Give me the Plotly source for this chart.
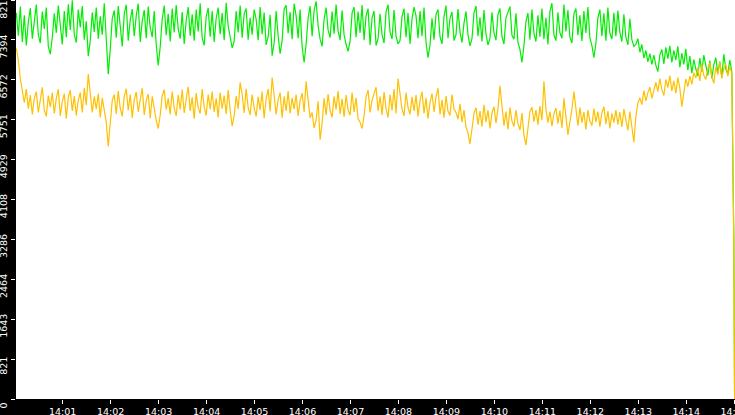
import numpy as np
import pandas as pd
import plotly.graph_objects as go

# samples every 2.5 s starting 14:00:02, last point closes the trace at 14:15
start = pd.Timestamp("2024-01-01 14:00:02")
n_regular = 360
times = list(start + pd.to_timedelta(np.arange(n_regular) * 2.5, unit="s"))
times.append(pd.Timestamp("2024-01-01 14:15:00.5"))

green = [
    7950, 7480, 8080, 7350, 7900, 7280, 7760, 8050, 7420, 7830, 8120, 7500, 7330, 7980, 7620, 8060, 7260, 7100, 7450, 7940,
    7540, 8100, 7680, 7300, 7990, 7450, 8130, 7600, 8210, 7500, 7340, 8020, 7650, 8090, 7400, 7780, 7060, 7380, 7960, 7560,
    8060, 7420, 7880, 7500, 8150, 7330, 6690, 7200, 7840, 8000, 7440, 8090, 7590, 7260, 7930, 8120, 7380, 7810, 8030, 7470,
    7890, 8140, 7350, 7780, 8010, 7430, 8080, 7640, 7450, 7990, 7300, 6870, 7250, 7820, 8100, 7490, 7930, 7360, 8040, 7550,
    8110, 7620, 7420, 7970, 7310, 7800, 8070, 7480, 7920, 7380, 8020, 7570, 8150, 7430, 7280, 7880, 8050, 7460, 7990, 7350,
    7840, 8060, 7510, 7950, 7390, 8160, 7680, 7420, 7230, 7370, 7990, 7550, 8100, 7440, 7930, 8040, 7400, 7850, 7500, 8020,
    7820, 7390, 8070, 7510, 7960, 7290, 7460, 7910, 7070, 7330, 7990, 7480, 7110, 7380, 8030, 8110, 7530, 7970, 7410, 8140,
    7890, 7430, 8020, 7260, 6930, 7300, 7850, 8090, 7470, 8000, 8190, 7690, 7410, 7260, 7820, 8060, 7600, 7440, 7980, 7520,
    8120, 7580, 7390, 8000, 7500, 7300, 7160, 7370, 7950, 8070, 7450, 7980, 7540, 8110, 7390, 7890, 8040, 7290, 7850, 7990,
    7280, 7420, 7930, 7500, 7330, 7970, 8120, 7560, 7410, 8010, 7470, 7310, 7380, 7880, 8040, 7450, 7950, 7310, 7830, 8070,
    7890, 7430, 7990, 7470, 8060, 7340, 7030, 7290, 7840, 7400, 7920, 8020, 7460, 7310, 7870, 8100, 7430, 7840, 7970, 7380,
    7500, 8030, 7560, 7340, 7740, 7980, 7500, 7270, 7420, 7950, 8090, 7470, 7860, 7360, 8010, 7510, 7290, 7430, 7960, 7540,
    7390, 7920, 8040, 7460, 7310, 7850, 7990, 8080, 7490, 7410, 7940, 7340, 7200, 6930, 7280, 7770, 7950, 7400, 8020, 7530,
    7360, 7900, 7460, 8040, 7410, 7850, 7300, 7980, 8150, 7500, 7380, 7960, 7540, 7430, 8120, 7570, 8010, 7450, 7330, 7930,
    8040, 7490, 7900, 7370, 7990, 7540, 8070, 7430, 7280, 7030, 7320, 7850, 8020, 7470, 7940, 7380, 8060, 7530, 7410, 7950,
    7470, 8000, 7550, 7360, 7920, 7450, 7290, 7830, 7400, 7260, 7300, 7420, 7140, 7300, 7020, 7180, 6940, 7110, 6890, 7080,
    6870, 6740, 7080, 7200, 6900, 7240, 7010, 7270, 6930, 7180, 6980, 7260, 6830, 7120, 6890, 7210, 6770, 7060, 6710, 6990,
    6800, 6650, 7020, 6740, 7080, 6830, 6660, 6970, 6600, 6880, 7030, 6710, 6950, 6620, 7100, 6800, 6690, 6980, 6750, 3280,
    0,
]

yellow = [
    7220, 6980, 6600, 6330, 6100, 6380, 5980, 6260, 5860, 6190, 6330, 5900, 6170, 6420, 5950, 5820, 6250, 6010, 6310, 5880,
    6190, 6380, 5830, 6120, 6290, 5770, 6210, 6360, 5930, 6240, 5840, 6150, 6310, 5900, 6410, 6050, 6690, 6300, 5900, 6230,
    5970, 6290, 5800, 6200, 5940, 5700, 5200, 5620, 6150, 6270, 5870, 6340, 5990, 5820, 6230, 6390, 5940, 6270, 5790, 6160,
    6320, 5910, 6200, 6400, 5850, 6150, 6280, 5780, 6230, 5970, 5740, 5570, 5850, 6240, 6370, 5960, 6190, 5860, 6330, 5990,
    5830, 6260, 5960, 6370, 5890, 6180, 6430, 5930, 6210, 5770, 6300, 6000, 5880, 6380, 6010, 5840, 6270, 5970, 6330, 5910,
    6190, 5800, 6310, 5980, 6250, 5870, 6360, 5940, 5620, 5830, 6240, 5970, 6520, 6270, 5890, 6390, 6000, 5850, 6270, 5990,
    5820, 6220, 5950, 6330, 5780, 6180, 6380, 5920, 6620, 6250, 5860, 6160, 6310, 5790, 6230, 5930, 6340, 5880, 6200, 5970,
    6270, 5830, 6150, 6300, 5910, 6540, 6180, 5790, 5900, 5580, 5740, 6130, 5340, 5680, 6190, 5850, 6280, 5940, 5800, 6230,
    5960, 6340, 5870, 6180, 5810, 6260, 5950, 5840, 6310, 5910, 6200, 5770, 5700, 5570, 5830, 6220, 6360, 5900, 6150, 6280,
    6420, 5930, 6230, 5850, 6320, 5980, 5800, 6270, 5940, 6380, 5880, 6600, 6250, 5970, 5830, 6310, 6000, 5860, 6220, 5930,
    6260, 5820, 6150, 6330, 5880, 6200, 5770, 6110, 6290, 5910, 6220, 6400, 5860, 6160, 5790, 6240, 5930, 5840, 6270, 5970,
    5900, 5760, 6080, 5700, 5950, 5600, 5480, 5250, 5560, 5880, 6000, 5650, 5930, 5610, 6060, 5700, 5950, 5570, 5890, 6020,
    5680, 5970, 6450, 6050, 5630, 5920, 5550, 6000, 5720, 5610, 5950, 5670, 5540, 5890, 5430, 5230, 5640, 5920, 6010, 5710,
    5950, 5650, 6030, 5740, 6540, 5970, 5690, 5920, 5620, 5870, 5990, 5670, 5940, 5580, 6190, 5750, 5440, 5710, 5970, 6330,
    5920, 5630, 6000, 5690, 5910, 5550, 5950, 5720, 5630, 5980, 5700, 5920, 5610, 5890, 6020, 5660, 5930, 5570, 5880, 5690,
    5950, 5650, 5910, 5600, 5970, 5710, 5530, 5920, 5650, 5290, 5820, 6090, 6200, 6060, 6350, 6140, 6310, 6420, 6190, 6390,
    6520, 6330, 6600, 6370, 6250, 6580, 6410, 6660, 6340, 6550, 6300, 6620, 6400, 6020, 6360, 6590, 6430, 6650, 6480, 6720,
    6610, 6820, 6550, 6890, 6660, 6580, 6800, 6920, 6640, 6500, 6840, 6680, 6940, 6600, 6810, 6890, 6650, 6850, 6700, 3280,
    0,
]

y_max = 8216
y_tick_labels = ["0", "821", "1643", "2464", "3286", "4108", "4929", "5751", "6572", "7394", "8216"]
y_tick_vals = [y_max / 10 * k for k in range(len(y_tick_labels))]

x_tick_labels = ["14:01", "14:02", "14:03", "14:04", "14:05", "14:06", "14:07", "14:08",
                 "14:09", "14:10", "14:11", "14:12", "14:13", "14:14", "14:15"]
x_tick_vals = [pd.Timestamp("2024-01-01 " + t) for t in x_tick_labels]

fig = go.Figure()
fig.add_trace(go.Scatter(x=times, y=green, mode="lines", line=dict(color="#00ee00", width=1.2),
                         name="green", hoverinfo="skip"))
fig.add_trace(go.Scatter(x=times, y=yellow, mode="lines", line=dict(color="#ffc000", width=1.2),
                         name="yellow", hoverinfo="skip"))

tick_font = dict(family="DejaVu Sans", size=9.5, color="white")
fig.update_layout(
    width=735, height=415,
    margin=dict(l=16, r=0, t=0, b=16, pad=0),
    paper_bgcolor="black",
    plot_bgcolor="white",
    showlegend=False,
    xaxis=dict(
        type="date", automargin=False,
        range=["2024-01-01 14:00:01.6", "2024-01-01 14:15:01"],
        tickmode="array", tickvals=x_tick_vals, ticktext=x_tick_labels,
        ticklabeloverflow="allow",
        showgrid=False, zeroline=False, showline=False,
        ticks="outside", ticklen=4, tickcolor="white", tickwidth=1,
        tickfont=tick_font,
    ),
    yaxis=dict(
        range=[0, y_max], automargin=False,
        tickmode="array", tickvals=y_tick_vals, ticktext=y_tick_labels,
        tickangle=-90, ticklabelshift=8, ticklabeloverflow="allow",
        showgrid=False, zeroline=False, showline=False,
        ticks="outside", ticklen=4, tickcolor="white", tickwidth=1,
        tickfont=tick_font,
    ),
)

# page body has an 8px default margin; drop it so the figure fills the window
fig.write_html("out.html", config={"displayModeBar": False},
               post_script="document.body.style.margin='0';")
